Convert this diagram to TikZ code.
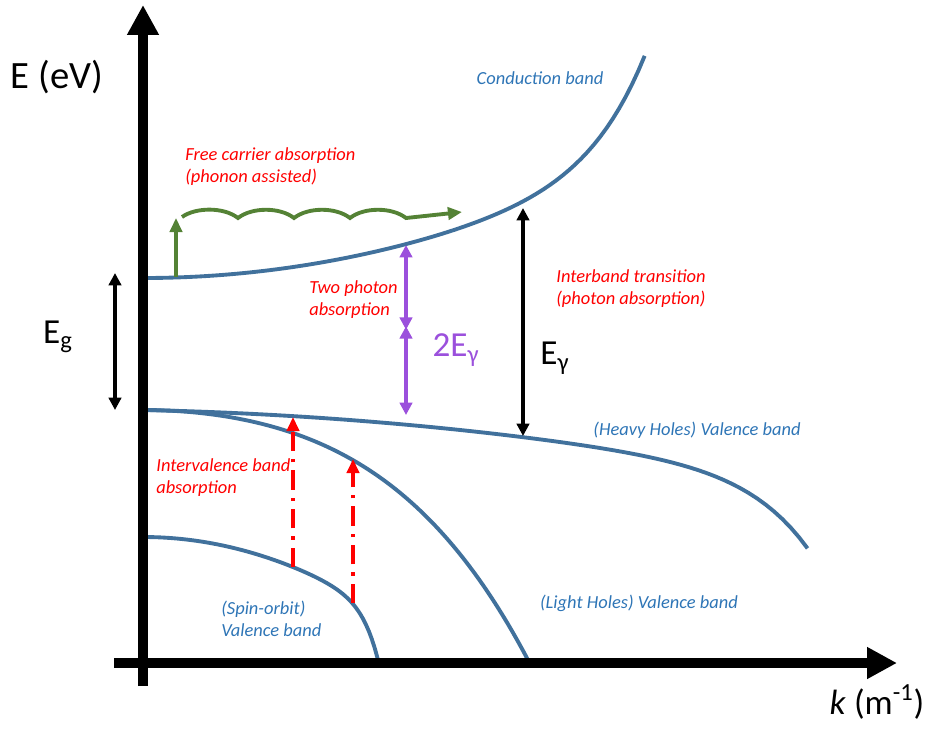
\documentclass[tikz,border=0pt]{standalone}
\usepackage{fontspec}
\setmainfont{Carlito}
\usepackage{xcolor}
\usetikzlibrary{arrows.meta}

\definecolor{bandblue}{RGB}{65,113,156}
\definecolor{lblblue}{RGB}{46,117,182}
\definecolor{phgreen}{RGB}{84,130,53}
\definecolor{tpapurple}{RGB}{155,80,220}

\begin{document}
\begin{tikzpicture}[
  x=0.02cm, y=-0.02cm,
  axis/.style={line width=5.7pt, -{Triangle[length=17pt, width=17pt]}},
  band/.style={bandblue, line width=2.2pt},
  dbl/.style={{Triangle[length=7pt, width=7pt]}-{Triangle[length=7pt, width=7pt]}},
  energy/.style={black, line width=2pt, dbl},
  tpa/.style={tpapurple, line width=2.2pt, dbl},
  phon/.style={phgreen, line width=2.2pt, -{Triangle[length=8pt, width=7pt]}},
  ivb/.style={red, line width=2pt, dash pattern=on 11pt off 4.5pt on 2pt off 4.5pt,
              -{Triangle[length=8pt, width=7pt]}},
  big/.style={font=\fontsize{20}{24}\selectfont},
  proc/.style={red, align=left, font=\fontsize{10.5}{12.5}\selectfont\itshape},
  bname/.style={lblblue, align=left, font=\fontsize{10.5}{12.5}\selectfont\itshape},
]
\useasboundingbox (0,0) rectangle (930,735);
% ---- bands (v runs 0..1 along each band) -------------------------------
\draw[band] plot[domain=0:1, samples=80]
  ({143+502*\x}, {278-123*\x*\x-100*\x^10});
\draw[band] plot[domain=0:1, samples=80]
  ({143+665*\x}, {410+13.9*\x+58.7*\x*\x+66.4*\x^12});
\draw[band] plot[domain=0:1, samples=80]
  ({143+385*\x}, {410+134*\x*\x+116*\x^4});
\draw[band] plot[domain=0:1, samples=80]
  ({143+235*\x}, {537+73.7*\x*\x+49.3*\x^16});
% ---- axes -------------------------------------------------------------
\coordinate (e0) at (143,686);
\coordinate (e1) at (143,5);
\coordinate (k0) at (114,663);
\coordinate (k1) at (897,663);
\draw[axis] (e0) -- (e1);
\draw[axis] (k0) -- (k1);
\node[font=\fontsize{22}{26}\selectfont] (elab) at (57,77) {E (eV)};
\node[big] (klab) at (877,702) {\textit{k} (m\textsuperscript{-1})};
% ---- band gap and photon energies -------------------------------------
\coordinate (gtop) at (115,273);
\coordinate (gbot) at (115,410);
\draw[energy] (gtop) -- (gbot);
\node[big] (eg) at (58,337) {E\textsubscript{g}};
\coordinate (itop) at (523,208);
\coordinate (ibot) at (523,436);
\draw[energy] (itop) -- (ibot);
\node[big] (egam) at (555,358) {E\textsubscript{γ}};
\coordinate (ttop) at (406,245);
\coordinate (tmid) at (406,328);
\coordinate (tbot) at (406,415);
\draw[tpa] (ttop) -- ([yshift=-1pt]tmid);
\draw[tpa] ([yshift=1pt]tmid) -- (tbot);
\node[big, tpapurple] (twoeg) at (456,350) {2E\textsubscript{γ}};
% ---- free carrier absorption ------------------------------------------
\coordinate (fc0) at (176,277);
\coordinate (fc1) at (176,218);
\coordinate (fcw) at (182,217);
\coordinate (fce) at (462,212);
\draw[phon] (fc0) -- (fc1);
\draw[phon] (fcw) \foreach \i in {0,...,3}{
  .. controls ({182+56*\i+14},207) and ({182+56*\i+42},207) .. ({182+56*(\i+1)},218)}
  -- (fce);
% ---- intervalence band absorption -------------------------------------
\coordinate (so1) at (293,567);
\coordinate (hh1) at (293,417);
\coordinate (so2) at (353,603);
\coordinate (lh2) at (353,459);
\draw[ivb] (so1) -- (hh1);
\draw[ivb] (so2) -- (lh2);
% ---- labels -----------------------------------------------------------
\node[bname] (cbl) at (540,78) {Conduction band};
\node[bname] (hhl) at (697,430) {(Heavy Holes) Valence band};
\node[bname] (lhl) at (639,603) {(Light Holes) Valence band};
\node[bname, anchor=west, inner sep=0pt] (sol) at (221,619) {(Spin-orbit)\\Valence band};
\node[proc, anchor=west, inner sep=0pt] (fcl) at (185,167)
  {Free carrier absorption\\(phonon assisted)};
\node[proc, anchor=west, inner sep=0pt] (tpl) at (309,300) {Two photon\\absorption};
\node[proc, anchor=west, inner sep=0pt] (ibl) at (556,289)
  {Interband transition\\(photon absorption)};
\node[proc, anchor=west, inner sep=0pt] (ivl) at (156,478)
  {Intervalence band\\absorption};
\end{tikzpicture}
\end{document}
